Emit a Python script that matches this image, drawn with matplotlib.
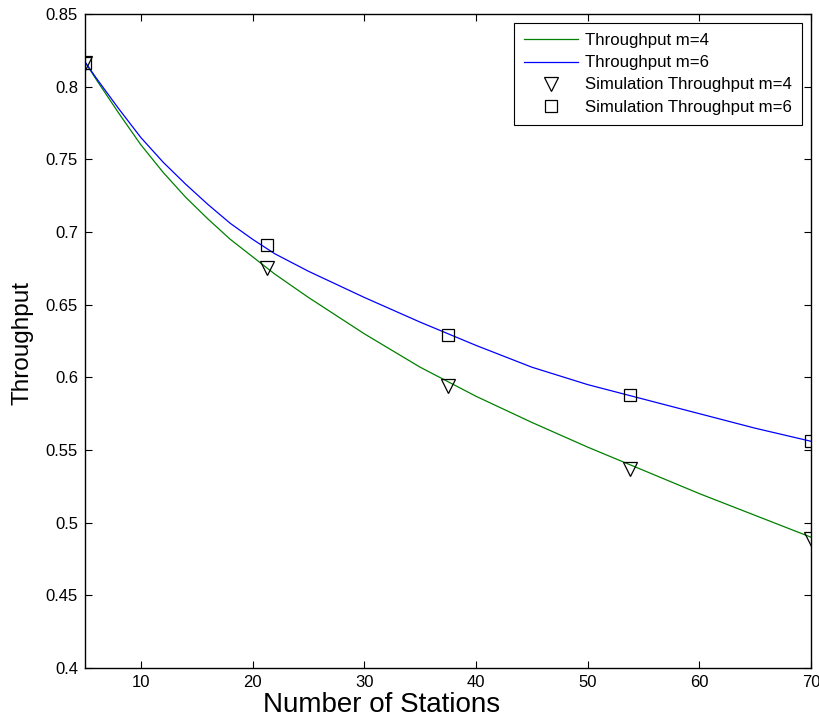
import matplotlib

matplotlib.use("Agg")
import matplotlib.pyplot as plt

# Analytic throughput curves
stations = [5, 6, 8, 10, 12, 14, 16, 18, 20, 22, 25, 30, 35, 40, 45, 50, 55, 60, 65, 70]
thr_m4 = [0.817, 0.805, 0.782, 0.760, 0.741, 0.724, 0.709, 0.695, 0.683, 0.671,
          0.655, 0.630, 0.607, 0.587, 0.569, 0.552, 0.536, 0.520, 0.505, 0.490]
thr_m6 = [0.817, 0.806, 0.785, 0.765, 0.748, 0.733, 0.719, 0.706, 0.695, 0.685,
          0.673, 0.655, 0.638, 0.622, 0.607, 0.595, 0.585, 0.575, 0.565, 0.556]

# Simulation points
sim_stations = [5, 21.25, 37.5, 53.75, 70]
sim_m4 = [0.816, 0.675, 0.594, 0.537, 0.489]
sim_m6 = [0.816, 0.691, 0.629, 0.588, 0.556]

xticks = [10, 20, 30, 40, 50, 60, 70]
yticks = [0.4, 0.45, 0.5, 0.55, 0.6, 0.65, 0.7, 0.75, 0.8, 0.85]

plt.rcParams["font.family"] = ["Liberation Sans", "DejaVu Sans"]

W, H = 820, 719
fig = plt.figure(figsize=(W / 100, H / 100), dpi=100)
ax = fig.add_axes([85 / W, 1 - 668 / H, 726 / W, 654 / H])

ax.plot(stations, thr_m4, color="#008000", linewidth=0.9, label="Throughput m=4")
ax.plot(stations, thr_m6, color="#0000ff", linewidth=0.9, label="Throughput m=6")
ax.plot(sim_stations, sim_m4, linestyle="none", marker="v", markersize=10,
        markerfacecolor="none", markeredgecolor="black", markeredgewidth=0.9,
        label="Simulation Throughput m=4")
ax.plot(sim_stations, sim_m6, linestyle="none", marker="s", markersize=8.5,
        markerfacecolor="none", markeredgecolor="black", markeredgewidth=0.9,
        label="Simulation Throughput m=6")

ax.set_xlim(5, 70)
ax.set_ylim(0.4, 0.85)
ax.set_xticks(xticks)
ax.set_yticks(yticks)
ax.set_yticklabels([f"{v:g}" for v in yticks])
ax.tick_params(direction="in", length=5, width=0.8, top=True, right=True,
               labelsize=12, colors="black", pad=5)
for side in ax.spines.values():
    side.set_linewidth(1.0)

# axis titles placed where the reference has them
fig.text(263 / W, 1 - 712 / H, "Number of Stations", fontsize=20,
         ha="left", va="baseline")
fig.text(23 / W, 1 - 343 / H, "Throughput", fontsize=17.5, rotation=90,
         ha="center", va="center")

leg = ax.legend(loc="upper right", fontsize=12.1, handlelength=3.2,
                borderaxespad=0.55, borderpad=0.6, labelspacing=0.42,
                handletextpad=0.4, fancybox=False, framealpha=1,
                edgecolor="black")
leg.get_frame().set_linewidth(0.8)

fig.savefig("out.png", dpi=100, facecolor="white")
